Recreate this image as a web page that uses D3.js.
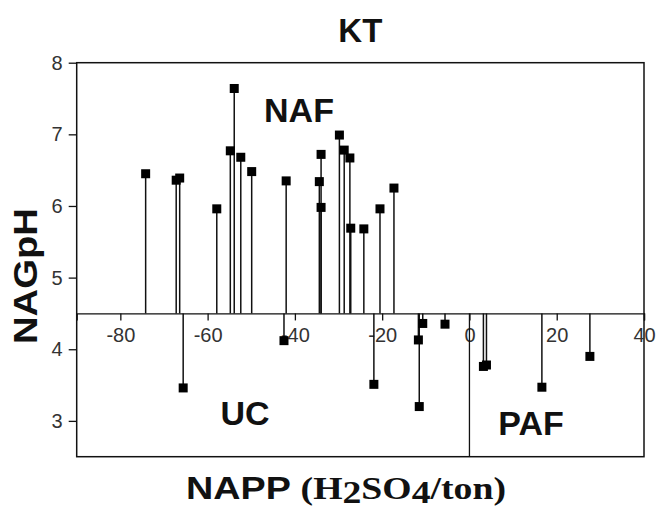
<!DOCTYPE html>
<html>
<head>
<meta charset="utf-8">
<script src="https://cdn.jsdelivr.net/npm/d3@7"></script>
<style>
  html, body { margin: 0; padding: 0; background: #fff; }
  svg { display: block; }
</style>
</head>
<body>
<svg id="chart" width="657" height="510"></svg>
<script>
// Net acid production potential vs. NAG pH for the KT samples
const napp = [-74.2, -67.2, -66.4, -65.6, -57.9, -54.8, -53.9, -52.4, -49.9, -42.5,
              -42.0, -34.4, -34.0, -34.0, -29.8, -28.7, -27.4, -27.2, -24.2, -21.9,
              -20.5, -17.3, -11.7, -11.5, -10.7, -5.6, 3.2, 3.9, 16.6, 27.6];
const nagph = [6.45, 6.36, 6.39, 3.46, 5.96, 6.77, 7.64, 6.68, 6.48, 4.12,
               6.35, 6.34, 6.72, 5.98, 6.99, 6.78, 6.67, 5.69, 5.68, 3.51,
               5.96, 6.25, 4.13, 3.20, 4.36, 4.35, 3.76, 3.78, 3.47, 3.90];
const xTicks = [-80, -60, -40, -20, 0, 20, 40];
const yTicks = [3, 4, 5, 6, 7, 8];
const xDomain = [-90, 40];
const yDomain = [2.5, 8];
const pHThreshold = 4.5;   // horizontal axis drawn at the NAG pH criterion
const nappThreshold = 0;   // divides UC and PAF below the criterion

const svg = d3.select("#chart");
const plotLeft = 76.7, plotRight = 644, plotTop = 62.7, plotBottom = 456.7;

const x = d3.scaleLinear().domain(xDomain).range([plotLeft, plotRight]);
const y = d3.scaleLinear().domain(yDomain).range([plotBottom, plotTop]);

const sans = "'Liberation Sans', Arial, sans-serif";
const serif = "'Liberation Serif', 'Times New Roman', serif";
const plainNumber = d => String(d);   // hyphen-minus, as printed on the axes

// plot frame
svg.append("rect")
  .attr("x", plotLeft).attr("y", plotTop)
  .attr("width", plotRight - plotLeft).attr("height", plotBottom - plotTop)
  .attr("fill", "none").attr("stroke", "#111").attr("stroke-width", 1.5);

// y axis on the left edge of the frame
const yAxis = svg.append("g")
  .attr("transform", `translate(${plotLeft},0)`)
  .call(d3.axisLeft(y).tickValues(yTicks).tickFormat(plainNumber).tickSize(8).tickPadding(6));
yAxis.select(".domain").remove();
yAxis.selectAll(".tick line").attr("stroke", "#111").attr("stroke-width", 1.3);
yAxis.selectAll(".tick text").attr("font-family", sans).attr("font-size", 20).attr("fill", "#333");

// x axis drawn across the plot at the pH criterion
const xAxis = svg.append("g")
  .attr("transform", `translate(0,${y(pHThreshold)})`)
  .call(d3.axisBottom(x).tickValues(xTicks).tickFormat(plainNumber).tickSize(7).tickPadding(7));
xAxis.select(".domain").attr("stroke", "#111").attr("stroke-width", 1.3);
xAxis.selectAll(".tick line").attr("stroke", "#111").attr("stroke-width", 1.3);
xAxis.selectAll(".tick text").attr("font-family", sans).attr("font-size", 20).attr("fill", "#333");

// divider at NAPP = 0 below the criterion
svg.append("line")
  .attr("x1", x(nappThreshold)).attr("x2", x(nappThreshold))
  .attr("y1", y(pHThreshold)).attr("y2", y(yDomain[0]))
  .attr("stroke", "#111").attr("stroke-width", 1.3);

const pts = napp.map((v, i) => ({ napp: v, ph: nagph[i] }));

// stems from the criterion line to each sample
svg.append("g").selectAll("line")
  .data(pts).join("line")
  .attr("x1", d => x(d.napp)).attr("x2", d => x(d.napp))
  .attr("y1", y(pHThreshold)).attr("y2", d => y(d.ph))
  .attr("stroke", "#111").attr("stroke-width", 1.5);

// square markers
const s = 9;
svg.append("g").selectAll("rect")
  .data(pts).join("rect")
  .attr("x", d => x(d.napp) - s / 2).attr("y", d => y(d.ph) - s / 2)
  .attr("width", s).attr("height", s)
  .attr("fill", "#000");

// title and region labels
svg.append("text").attr("x", (plotLeft + plotRight) / 2).attr("y", 42)
  .attr("text-anchor", "middle").attr("font-family", sans).attr("font-weight", "bold")
  .attr("font-size", 33).attr("fill", "#111").text("KT");

const regions = [
  { text: "NAF", cx: 299, by: 122 },
  { text: "UC", cx: 245, by: 425 },
  { text: "PAF", cx: 531, by: 435 }
];
svg.append("g").selectAll("text")
  .data(regions).join("text")
  .attr("x", d => d.cx).attr("y", d => d.by)
  .attr("text-anchor", "middle").attr("font-family", sans).attr("font-weight", "bold")
  .attr("font-size", 34).attr("fill", "#111").text(d => d.text);

// y axis title
svg.append("text")
  .attr("transform", `translate(37,${276}) rotate(-90)`)
  .attr("text-anchor", "middle").attr("font-family", sans).attr("font-weight", "bold")
  .attr("font-size", 33).attr("fill", "#111")
  .attr("textLength", 136).attr("lengthAdjust", "spacingAndGlyphs")
  .text("NAGpH");

// x axis title with chemical subscripts
const xt = svg.append("text")
  .attr("x", 186).attr("y", 499)
  .attr("font-weight", "bold")
  .attr("font-size", 31).attr("fill", "#111")
  .attr("textLength", 320).attr("lengthAdjust", "spacingAndGlyphs");
const xtParts = [
  { t: "NAPP ", f: sans, dy: 0 },
  { t: "(H", f: serif, dy: 0 },
  { t: "2", f: serif, dy: 4 },
  { t: "SO", f: serif, dy: -4 },
  { t: "4", f: serif, dy: 4 },
  { t: "/ton)", f: serif, dy: -4 }
];
xtParts.forEach(p => {
  xt.append("tspan").attr("font-family", p.f).attr("dy", p.dy).text(p.t);
});
</script>
</body>
</html>
